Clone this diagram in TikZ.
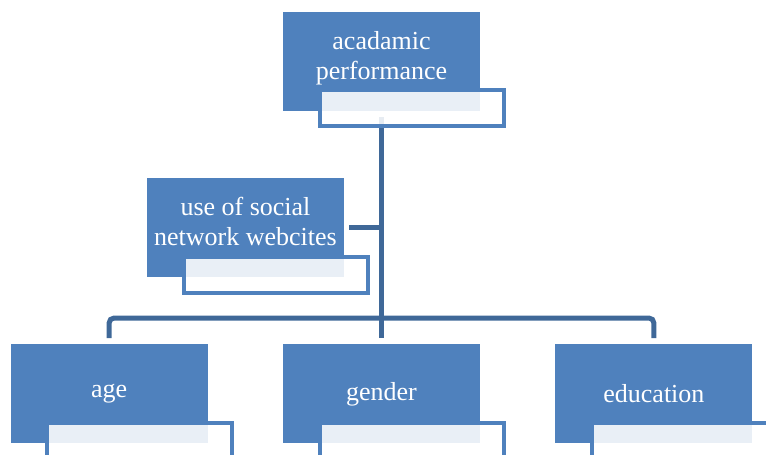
\documentclass[tikz,border=0pt]{standalone}
\usepackage{fontspec}
\setmainfont{Liberation Serif}
\usetikzlibrary{positioning}
\definecolor{boxblue}{HTML}{4F81BD}
\definecolor{linkblue}{HTML}{3F6898}

\begin{document}
\begin{tikzpicture}[x=1pt, y=-1pt, node distance=75pt,
  every node/.style={fill=boxblue, text=white, align=center, minimum width=197pt, minimum height=99pt, inner sep=0pt, font=\fontsize{26}{30}\selectfont},
  twoline/.style={text depth=13pt},
  frame/.style={draw=boxblue, line width=4pt, fill=white, fill opacity=0.88},
  link/.style={draw=linkblue, line width=5pt, rounded corners=5pt}]
\useasboundingbox (0,0) rectangle (766,455);
\clip (0,0) rectangle (766,455);
\node (perf) [twoline] at (381.5,61.5) {acadamic\\performance};
\node (social) [twoline, below=67pt of perf, xshift=-136pt] {use of social\\network webcites};
\node (gender) [below=233pt of perf] {gender};
\node (age) [left=of gender] {age};
\node (edu) [right=of gender] {education};
\coordinate (bus) at (381.5,318);
\draw[link] ([yshift=-6pt]perf.south) -- ([yshift=6pt]gender.north);
\draw[link] ([yshift=6pt]age.north) |- (bus) -| ([yshift=6pt]edu.north);
\draw[link] (perf.south |- social.east) -- ([xshift=5pt]social.east);
% frames under each box
\foreach \n in {perf,social,age,gender,edu}
  \draw[frame] ([xshift=37pt,yshift=21pt]\n.south west) rectangle ([xshift=24pt,yshift=-15pt]\n.south east);
\end{tikzpicture}
\end{document}
